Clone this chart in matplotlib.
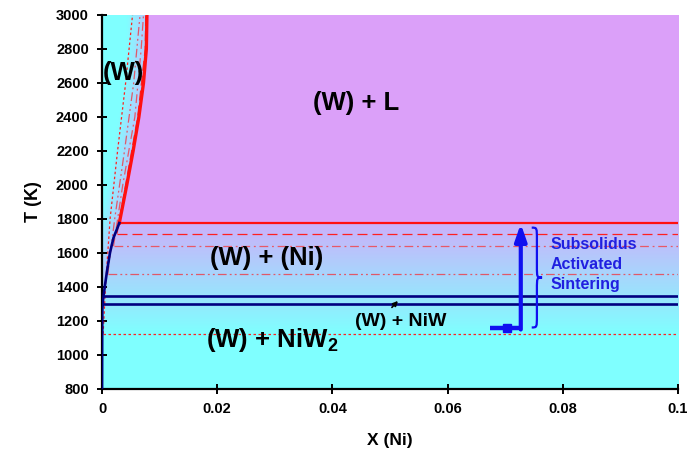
import matplotlib.pyplot as plt
import numpy as np
from matplotlib.path import Path
from matplotlib.patches import PathPatch

plt.rcParams['font.family'] = ['Liberation Sans', 'DejaVu Sans']
plt.rcParams['font.weight'] = 'bold'
plt.rcParams['mathtext.fontset'] = 'custom'
plt.rcParams['mathtext.rm'] = 'Liberation Sans:bold'
plt.rcParams['mathtext.bf'] = 'Liberation Sans:bold'

# phase boundaries, W-rich corner of the W-Ni diagram
liq_T = [1776, 2000, 2200, 2400, 2600, 2800, 3000]
liq_x = [0.0030, 0.0043, 0.0054, 0.0064, 0.0072, 0.0077, 0.0078]
solv_T = [800, 1100, 1269, 1330, 1406, 1500, 1604, 1690, 1758, 1776]
solv_x = [0.0, 0.00002, 0.00005, 0.0002, 0.0005, 0.0009, 0.0014, 0.0020, 0.0028, 0.0030]

# alternative boundaries (thin curves) and their invariant temperatures
dash_T = [1714, 2000, 2400, 2800, 3000]
dash_x = [0.0026, 0.0041, 0.0062, 0.0075, 0.0076]
dashdot_T = [1640, 2000, 2400, 2800, 3000]
dashdot_x = [0.0020, 0.0036, 0.0057, 0.0068, 0.0072]
dd_T = [1474, 1800, 2200, 2600, 3000]
dd_x = [0.0010, 0.0022, 0.0039, 0.0055, 0.0066]
dot_T = [1125, 1400, 1800, 2200, 2600, 3000]
dot_x = [0.0002, 0.0006, 0.0014, 0.0027, 0.0041, 0.0053]

T_eut = 1776
T_niw = [1346, 1299]

# sintering path
path_x = [0.0674, 0.0727]
path_T = 1160
path_top = 1772
brace_T = [1162, 1749]

fig = plt.figure(figsize=(6.93, 4.61), dpi=100)
ax = fig.add_axes([0.1472, 0.1562, 0.8312, 0.8113])

# background shading
gx = np.linspace(0, 0.1, 700)
gT = np.linspace(800, 3000, 500)
X, T = np.meshgrid(gx, gT)
purple = np.array([0.86, 0.63, 0.98])
cyan = np.array([0.50, 1.0, 1.0])
lav = np.array([0.80, 0.69, 0.98])
f = np.clip((T - 1125) / (T_eut - 1125), 0, 1)[..., None]
img = cyan * (1 - f) + lav * f
bound = np.where(T >= T_eut, np.interp(T, liq_T, liq_x), np.interp(T, solv_T, solv_x))
img = np.where((T >= T_eut)[..., None], purple, img)
d = np.clip((bound - X) / 0.0035, 0, 1)[..., None]
leftcol = cyan * d + np.array([0.72, 0.78, 1.0]) * (1 - d)
img = np.where((X < bound)[..., None], leftcol, img)
ax.imshow(img, extent=[0, 0.1, 800, 3000], origin='lower', aspect='auto',
          interpolation='bilinear', zorder=0)

# horizontal invariants
ax.plot([liq_x[0], 0.1], [T_eut, T_eut], color='#FF1010', lw=1.6, zorder=3)
ax.plot([dash_x[0], 0.1], [dash_T[0]] * 2, color='#FF2020', lw=0.9, dashes=(8, 4), zorder=2)
ax.plot([dashdot_x[0], 0.1], [dashdot_T[0]] * 2, color='#E85868', lw=0.9,
        dashes=(7, 3, 1.5, 3), zorder=2)
ax.plot([dd_x[0], 0.1], [dd_T[0]] * 2, color='#E05868', lw=0.9,
        dashes=(7, 2.5, 1.5, 2.5, 1.5, 2.5), zorder=2)
ax.plot([dot_x[0], 0.1], [dot_T[0]] * 2, color='#FF2020', lw=0.9, dashes=(2, 2), zorder=2)
for t in T_niw:
    ax.plot([np.interp(t, solv_T, solv_x), 0.1], [t, t], color='#000080', lw=1.9, zorder=3)

# boundary curves
ax.plot(dot_x, dot_T, color='#FF2020', lw=0.9, dashes=(2, 2), zorder=2)
ax.plot(dd_x, dd_T, color='#E05868', lw=0.9, dashes=(7, 2.5, 1.5, 2.5, 1.5, 2.5), zorder=2)
ax.plot(dashdot_x, dashdot_T, color='#E85868', lw=0.9, dashes=(7, 3, 1.5, 3), zorder=2)
ax.plot(dash_x, dash_T, color='#FF2020', lw=0.9, dashes=(8, 4), zorder=2)
ax.plot(liq_x, liq_T, color='#FF1010', lw=2.4, zorder=4)
ax.plot(solv_x, solv_T, color='#000080', lw=1.9, zorder=4)

# phase labels
ax.text(0.0002, 2619, '(W)', fontsize=18.5, fontweight='bold', ha='left', va='baseline', zorder=5)
ax.text(0.0442, 2439, '(W) + L', fontsize=18.5, fontweight='bold', ha='center', va='baseline')
ax.text(0.0285, 1527, '(W) + (Ni)', fontsize=18.5, fontweight='bold', ha='center', va='baseline')
ax.text(0.0181, 1046, r'(W) + NiW$_2$', fontsize=18.5, fontweight='bold', ha='left', va='baseline')
ax.text(0.0439, 1170, '(W) + NiW', fontsize=14, fontweight='bold', ha='left', va='baseline')
ax.annotate('', xy=(0.0517, 1330), xytext=(0.0500, 1268),
            arrowprops=dict(arrowstyle='-|>', color='black', lw=1.2, mutation_scale=7))

# sintering path and brace
blue = '#1010F0'
ax.plot(path_x, [path_T, path_T], color=blue, lw=3.2, solid_capstyle='butt', zorder=6)
ax.plot([0.0703], [path_T], marker='s', ms=6, color=blue, zorder=6)
ax.annotate('', xy=(path_x[1], path_top), xytext=(path_x[1], path_T - 10),
            arrowprops=dict(arrowstyle='-|>,head_width=0.35,head_length=1.0',
                            color=blue, lw=3, shrinkA=0, shrinkB=0), zorder=6)
x0, w = 0.0746, 0.0018
lo, hi = brace_T
mid = (lo + hi) / 2
xm = x0 + w * 0.5
verts = [(x0, hi), (xm, hi), (xm, hi), (xm, hi - 70),
         (xm, mid + 70),
         (xm, mid), (xm, mid), (x0 + w, mid),
         (xm, mid), (xm, mid), (xm, mid - 70),
         (xm, lo + 70),
         (xm, lo), (xm, lo), (x0, lo)]
codes = [Path.MOVETO, Path.CURVE4, Path.CURVE4, Path.CURVE4,
         Path.LINETO,
         Path.CURVE4, Path.CURVE4, Path.CURVE4,
         Path.CURVE4, Path.CURVE4, Path.CURVE4,
         Path.LINETO,
         Path.CURVE4, Path.CURVE4, Path.CURVE4]
ax.add_patch(PathPatch(Path(verts, codes), facecolor='none', edgecolor=blue, lw=1.6, zorder=6))
for txt, t in zip(['Subsolidus', 'Activated', 'Sintering'], [1625, 1504, 1387]):
    ax.text(0.0778, t, txt, color='#2020E0', fontsize=11.5, fontweight='bold', va='baseline')

# axes
ax.set_xlim(0, 0.1)
ax.set_ylim(800, 3000)
ax.set_xticks([0, 0.02, 0.04, 0.06, 0.08, 0.1])
ax.set_xticklabels(['0', '0.02', '0.04', '0.06', '0.08', '0.1'])
ax.set_yticks(np.arange(800, 3001, 200))
for s in ['top', 'right']:
    ax.spines[s].set_visible(False)
for s in ['left', 'bottom']:
    ax.spines[s].set_linewidth(1.6)
ax.tick_params(direction='inout', length=7, width=1.4, labelsize=10.5, pad=6)
for lab in ax.get_xticklabels() + ax.get_yticklabels():
    lab.set_fontweight('bold')
ax.set_xlabel('X (Ni)', fontsize=12.5, fontweight='bold', labelpad=12)
ax.set_ylabel('T (K)', fontsize=13, fontweight='bold', labelpad=10)

fig.savefig('out.png', dpi=100)
